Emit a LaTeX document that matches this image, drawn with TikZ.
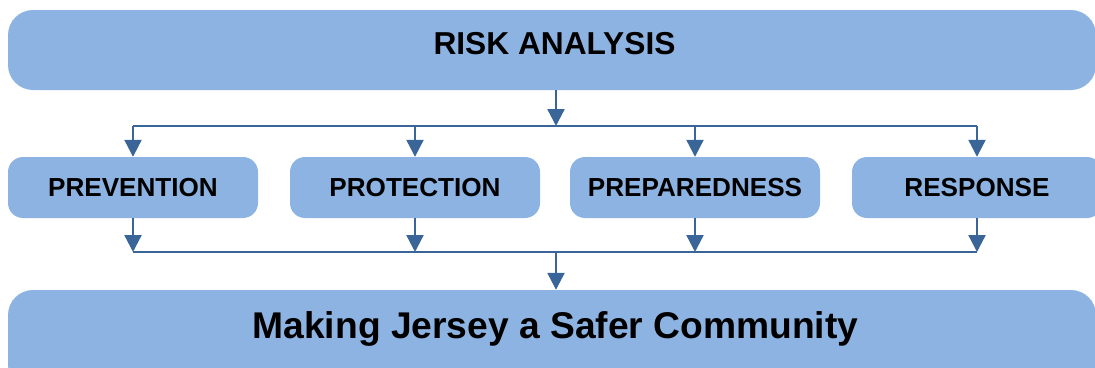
\documentclass[tikz,border=0pt]{standalone}
\usepackage{fontspec}
\setmainfont{Liberation Sans}
\usetikzlibrary{arrows.meta}
\definecolor{boxblue}{HTML}{8DB3E2}
\definecolor{arrblue}{HTML}{3A6599}
\begin{document}
\begin{tikzpicture}[x=1pt,y=-1pt,
  bigbox/.style={fill=boxblue, draw=none, rounded corners=25pt, inner sep=0pt},
  midbox/.style={fill=boxblue, draw=none, rounded corners=15pt, inner sep=0pt,
    minimum width=250pt, minimum height=61pt,
    font=\fontsize{26.1}{30}\selectfont\bfseries},
  busline/.style={draw=arrblue, line width=2.3pt},
  arr/.style={draw=arrblue, line width=2.3pt, -{Triangle[width=17pt,length=17pt]}}]
\clip (0,0) rectangle (1095,367);
\useasboundingbox (0,0) rectangle (1095,367);
% boxes
\node[bigbox, minimum width=1088pt, minimum height=80pt] (risk) at (552,50) {};
\node[font=\fontsize{31.7}{36}\selectfont\bfseries] (risklabel) at (554.5,44) {RISK ANALYSIS};
\node[midbox] (prev) at (133,187.5) {PREVENTION};
\node[midbox] (prot) at (415,187.5) {PROTECTION};
\node[midbox] (prep) at (695,187.5) {PREPAREDNESS};
\node[midbox] (resp) at (977,187.5) {RESPONSE};
\node[bigbox, minimum width=1088pt, minimum height=100pt] (goal) at (552,340) {};
\node[font=\fontsize{37.2}{42}\selectfont\bfseries] (goallabel) at (555.5,329) {Making Jersey a Safer Community};
% buses
\coordinate (tb) at (556,126);
\coordinate (bb) at (556,252);
\draw[arr] (risk.south -| tb) -- (tb);
\draw[busline] (prev.north |- tb) -- (resp.north |- tb);
\foreach \n in {prev,prot,prep,resp}{
  \draw[arr] (\n.north |- tb) -- (\n.north);
  \draw[arr] (\n.south) -- (\n.south |- bb);
}
\draw[busline] (prev.south |- bb) -- (resp.south |- bb);
\draw[arr] (bb) -- (goal.north -| bb);
\end{tikzpicture}
\end{document}
